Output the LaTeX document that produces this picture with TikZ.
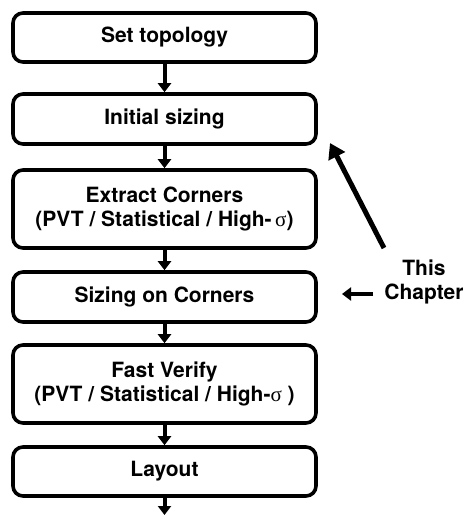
\documentclass[tikz,border=0pt]{standalone}
\usepackage{fontspec}
\setmainfont{TeX Gyre Heros}
\newfontfamily\greekserif{Liberation Serif}
\usetikzlibrary{arrows.meta}
\tikzset{
  stepbox/.style={draw,line width=3.6pt,rounded corners=10pt,minimum width=303pt,align=center,font=\fontsize{21}{24}\selectfont\bfseries,inner sep=0pt},
  flow/.style={line width=4pt,-{Triangle[width=13pt,length=9pt]}},
  bigflow/.style={line width=5pt,-{Triangle[width=18pt,length=15pt]}}
}
\newcommand{\sig}{{\greekserif\mdseries σ}}
\begin{document}
\begin{tikzpicture}[x=1pt,y=-1pt]
\useasboundingbox (0,0) rectangle (465,515);
\node[stepbox,minimum height=49pt] (topo) at (164.5,37.5) {Set topology};
\node[stepbox,minimum height=50pt] (init) at (164.5,119) {Initial sizing};
\node[stepbox,minimum height=78pt] (extract) at (164.5,209) {Extract Corners\\(PVT / Statistical / High-\,\sig)};
\node[stepbox,minimum height=50pt] (sizing) at (164.5,297) {Sizing on Corners};
\node[stepbox,minimum height=78pt] (verify) at (164.5,384) {Fast Verify\\(PVT / Statistical / High-\sig\ )};
\node[stepbox,minimum height=49pt] (layout) at (164.5,471.5) {Layout};
\coordinate (out) at (164.5,515);
\draw[flow] (topo)--(init);
\draw[flow] (init)--(extract);
\draw[flow] (extract)--(sizing);
\draw[flow] (sizing)--(verify);
\draw[flow] (verify)--(layout);
\draw[flow] (layout.south)--(out);
\node[align=center,font=\fontsize{21}{24}\selectfont\bfseries,inner sep=0pt] (chap) at (424,282) {This\\Chapter};
\coordinate (bigtail) at (384,248);
\coordinate (bigtip) at (330,143);
\coordinate (smalltail) at (373,294);
\coordinate (smalltip) at (342,294);
\draw[bigflow] (bigtail)--(bigtip);
\draw[flow] (smalltail)--(smalltip);
\end{tikzpicture}
\end{document}
